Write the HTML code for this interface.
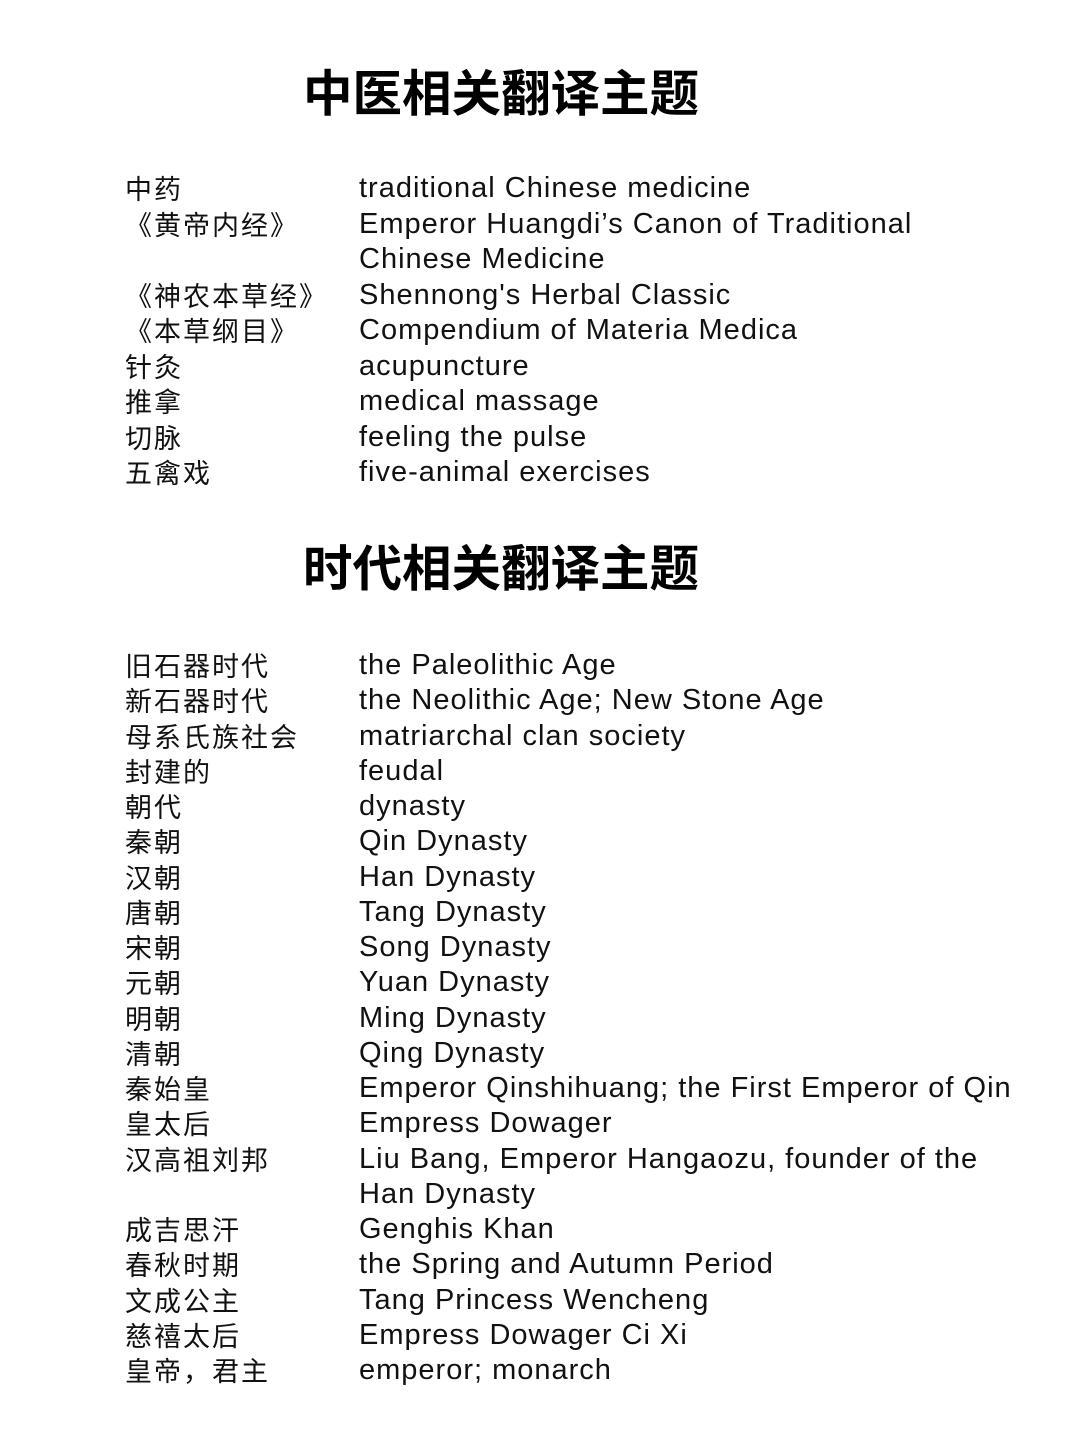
<!DOCTYPE html>
<html><head><meta charset="utf-8"><style>
body{margin:0;width:1080px;height:1438px;background:#fff;position:relative;overflow:hidden;font-family:"Liberation Sans","Noto Sans CJK SC",sans-serif;color:#111}
.t{position:absolute;left:0;width:1002px;text-align:center;font-size:49.5px;font-weight:bold;line-height:60px;font-family:"Noto Sans CJK SC",sans-serif;color:#000}
.r{position:absolute;left:0;width:1080px;height:36px;line-height:36px;font-size:28px;white-space:nowrap}
.c{position:absolute;left:125px;font-family:"Noto Sans CJK SC",sans-serif;font-size:27px;letter-spacing:2px}
.e{position:absolute;left:359px;font-family:"Liberation Sans",sans-serif;font-size:29px;letter-spacing:1px}
</style></head><body>
<div class="t" style="top:61px">中医相关翻译主题</div>
<div class="t" style="top:536px">时代相关翻译主题</div>
<div id="l1"></div>
<div id="l2"></div>
<script>
const tcm=[["中药","traditional Chinese medicine"],["《黄帝内经》","Emperor Huangdi’s Canon of Traditional"],["","Chinese Medicine"],["《神农本草经》","Shennong's Herbal Classic"],["《本草纲目》","Compendium of Materia Medica"],["针灸","acupuncture"],["推拿","medical massage"],["切脉","feeling the pulse"],["五禽戏","five-animal exercises"]];
const hist=[["旧石器时代","the Paleolithic Age"],["新石器时代","the Neolithic Age; New Stone Age"],["母系氏族社会","matriarchal clan society"],["封建的","feudal"],["朝代","dynasty"],["秦朝","Qin Dynasty"],["汉朝","Han Dynasty"],["唐朝","Tang Dynasty"],["宋朝","Song Dynasty"],["元朝","Yuan Dynasty"],["明朝","Ming Dynasty"],["清朝","Qing Dynasty"],["秦始皇","Emperor Qinshihuang; the First Emperor of Qin"],["皇太后","Empress Dowager"],["汉高祖刘邦","Liu Bang, Emperor Hangaozu, founder of the"],["","Han Dynasty"],["成吉思汗","Genghis Khan"],["春秋时期","the Spring and Autumn Period"],["文成公主","Tang Princess Wencheng"],["慈禧太后","Empress Dowager Ci Xi"],["皇帝，君主","emperor; monarch"]];
function build(id,rows,start,step){
 const p=document.getElementById(id);
 rows.forEach((r,i)=>{
  const d=document.createElement('div');d.className='r';d.style.top=(start+i*step-18)+'px';
  
  
  const c=document.createElement('span');c.className='c';c.textContent=r[0];
  
  
  const e=document.createElement('span');e.className='e';e.textContent=r[1];
  
  
  d.appendChild(c);d.appendChild(e);p.appendChild(d);
 });
}
build('l1',tcm,188,35.5);
build('l2',hist,665,35.25);
</script>
</body></html>
